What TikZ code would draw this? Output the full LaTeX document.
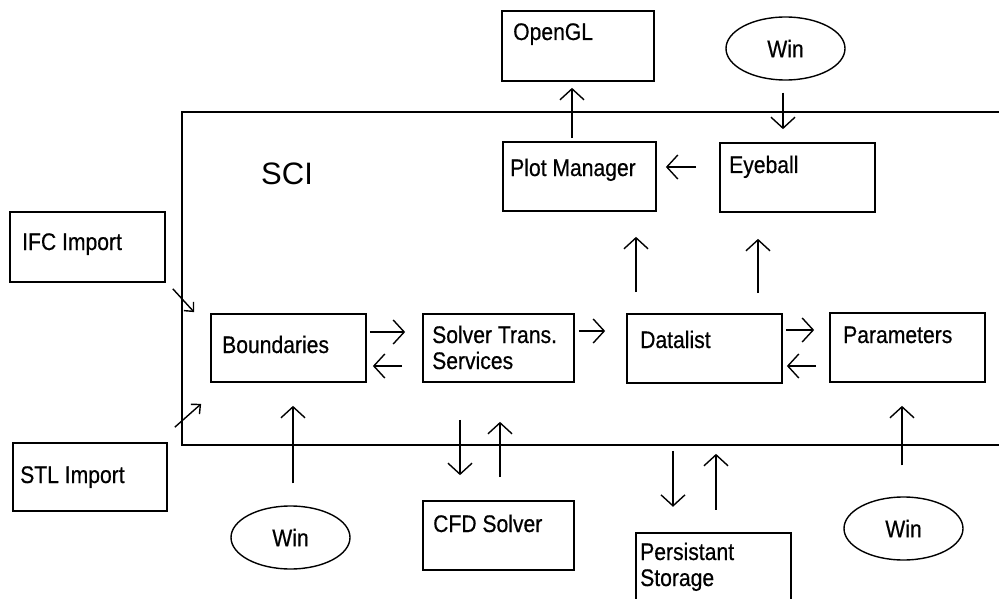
\documentclass[tikz,border=0pt]{standalone}
\usepackage{fontspec}
\setmainfont{Liberation Sans}
\newfontfamily\boxfont[FakeStretch=0.88,FakeBold=0.5]{Liberation Sans}
\usetikzlibrary{arrows.meta,shapes.geometric}
\begin{document}
\begin{tikzpicture}[x=1pt,y=-1pt,
  boxline/.style={line width=1.7pt},
  box/.style={draw,boxline,rectangle,inner sep=0pt},
  winell/.style={draw,line width=1.4pt,ellipse,inner sep=0pt,minimum width=119pt,minimum height=63pt,
    font=\boxfont\fontsize{24}{26}\selectfont},
  lbl/.style={anchor=base west,inner sep=0pt,align=left,font=\boxfont\fontsize{24}{26}\selectfont},
  arr/.style={line width=1.4pt,-{Straight Barb[length=11pt,width=24pt]}},
  sarr/.style={line width=1.4pt,-{Straight Barb[length=7pt,width=13pt]}},
]
\useasboundingbox (0,0) rectangle (999,599);
\fill[white] (0,0) rectangle (999,599);

% SCI frame
\coordinate (ftr) at (999,112);
\coordinate (ftl) at (182,112);
\coordinate (fbl) at (182,445);
\coordinate (fbr) at (999,445);
\draw[boxline] (ftr) -- (ftl) -- (fbl) -- (fbr);
\node[anchor=base west,inner sep=0pt,font=\fontsize{31}{34}\selectfont] (sci) at (261,185) {SCI};

% boxes
\node[box,minimum width=155pt,minimum height=70pt] (ifc) at (87.5,247) {};
\node[box,minimum width=154pt,minimum height=68pt] (stl) at (90,477) {};
\node[box,minimum width=155pt,minimum height=68pt] (bnd) at (288.5,348) {};
\node[box,minimum width=151pt,minimum height=68pt] (sts) at (498.5,348) {};
\node[box,minimum width=155pt,minimum height=69pt] (dl) at (704.5,348.5) {};
\node[box,minimum width=155pt,minimum height=69pt] (par) at (907.5,347.5) {};
\node[box,minimum width=153pt,minimum height=69pt] (pm) at (579.5,176.5) {};
\node[box,minimum width=155pt,minimum height=69pt] (eye) at (797.5,177.5) {};
\node[box,minimum width=152pt,minimum height=70pt] (ogl) at (578,46) {};
\node[box,minimum width=151pt,minimum height=69pt] (cfd) at (498.5,535.5) {};
\node[inner sep=0pt,minimum width=155pt,minimum height=67pt] (ps) at (713.5,566.5) {};
\draw[boxline] (ps.south west) -- (ps.north west) -- (ps.north east) -- (ps.south east);

% ellipses
\node[winell] (win1) at (785.5,48.5) {Win};
\node[winell] (win2) at (290.5,537.5) {Win};
\node[winell] (win3) at (903.5,528.5) {Win};

% labels
\node[lbl] (ifct) at (22,250) {IFC Import};
\node[lbl] (stlt) at (20,483) {STL Import};
\node[lbl] (bndt) at (222,353) {Boundaries};
\node[lbl] (stst) at (432,369) {Solver Trans.\\Services};
\node[lbl] (dlt) at (640,348) {Datalist};
\node[lbl] (part) at (843,343) {Parameters};
\node[lbl] (pmt) at (510,176) {Plot Manager};
\node[lbl] (eyet) at (729,173) {Eyeball};
\node[lbl] (oglt) at (513,40) {OpenGL};
\node[lbl] (cfdt) at (433,532) {CFD Solver};
\node[lbl] (pst) at (640,586) {Persistant\\Storage};

% connectors
\draw[arr] ([xshift=-7.5pt,yshift=3pt]pm.north) -- ([xshift=-6pt,yshift=-6pt]ogl.south);
\draw[arr] ([xshift=-2.5pt,yshift=-12pt]win1.south) -- ([xshift=-14.5pt,yshift=13pt]eye.north);
\draw[arr] ([xshift=-23pt,yshift=10.5pt]eye.west) -- ([xshift=9pt,yshift=9.5pt]pm.east);
\draw[arr] ([xshift=-68.5pt,yshift=21pt]dl.north) -- ([xshift=56.5pt,yshift=-25pt]pm.south);
\draw[arr] ([xshift=53.5pt,yshift=20pt]dl.north) -- ([xshift=-39.5pt,yshift=-26pt]eye.south);
\draw[arr] ([xshift=3pt,yshift=16pt]bnd.east) -- ([xshift=-17pt,yshift=16pt]sts.west);
\draw[arr] ([xshift=-20pt,yshift=-18pt]sts.west) -- ([xshift=6pt,yshift=-18pt]bnd.east);
\draw[arr] ([xshift=4pt,yshift=17pt]sts.east) -- ([xshift=-21pt,yshift=17.5pt]dl.west);
\draw[arr] ([xshift=3pt,yshift=18.5pt]dl.east) -- ([xshift=-15pt,yshift=17.5pt]par.west);
\draw[arr] ([xshift=-13pt,yshift=-18.5pt]par.west) -- ([xshift=4pt,yshift=-17.5pt]dl.east);
\draw[arr] ([xshift=2.5pt,yshift=22pt]win2.north) -- ([xshift=4.5pt,yshift=-23pt]bnd.south);
\draw[arr] ([xshift=-38.5pt,yshift=-37pt]sts.south) -- ([xshift=-38.5pt,yshift=25pt]cfd.north);
\draw[arr] ([xshift=1.5pt,yshift=23pt]cfd.north) -- ([xshift=1.5pt,yshift=-39pt]sts.south);
\draw[arr] ([xshift=-31.5pt,yshift=-67pt]dl.south) -- ([xshift=-40.5pt,yshift=26pt]ps.north);
\draw[arr] ([xshift=2.5pt,yshift=23pt]ps.north) -- ([xshift=11.5pt,yshift=-70pt]dl.south);
\draw[arr] ([xshift=-1.5pt,yshift=31pt]win3.north) -- ([xshift=-5.5pt,yshift=-23pt]par.south);
\draw[sarr] ([xshift=7pt,yshift=-6pt]ifc.south east) -- ([xshift=-16pt,yshift=1pt]bnd.north west);
\draw[sarr] ([xshift=7pt,yshift=15pt]stl.north east) -- ([xshift=-9pt,yshift=-21pt]bnd.south west);
\end{tikzpicture}
\end{document}
